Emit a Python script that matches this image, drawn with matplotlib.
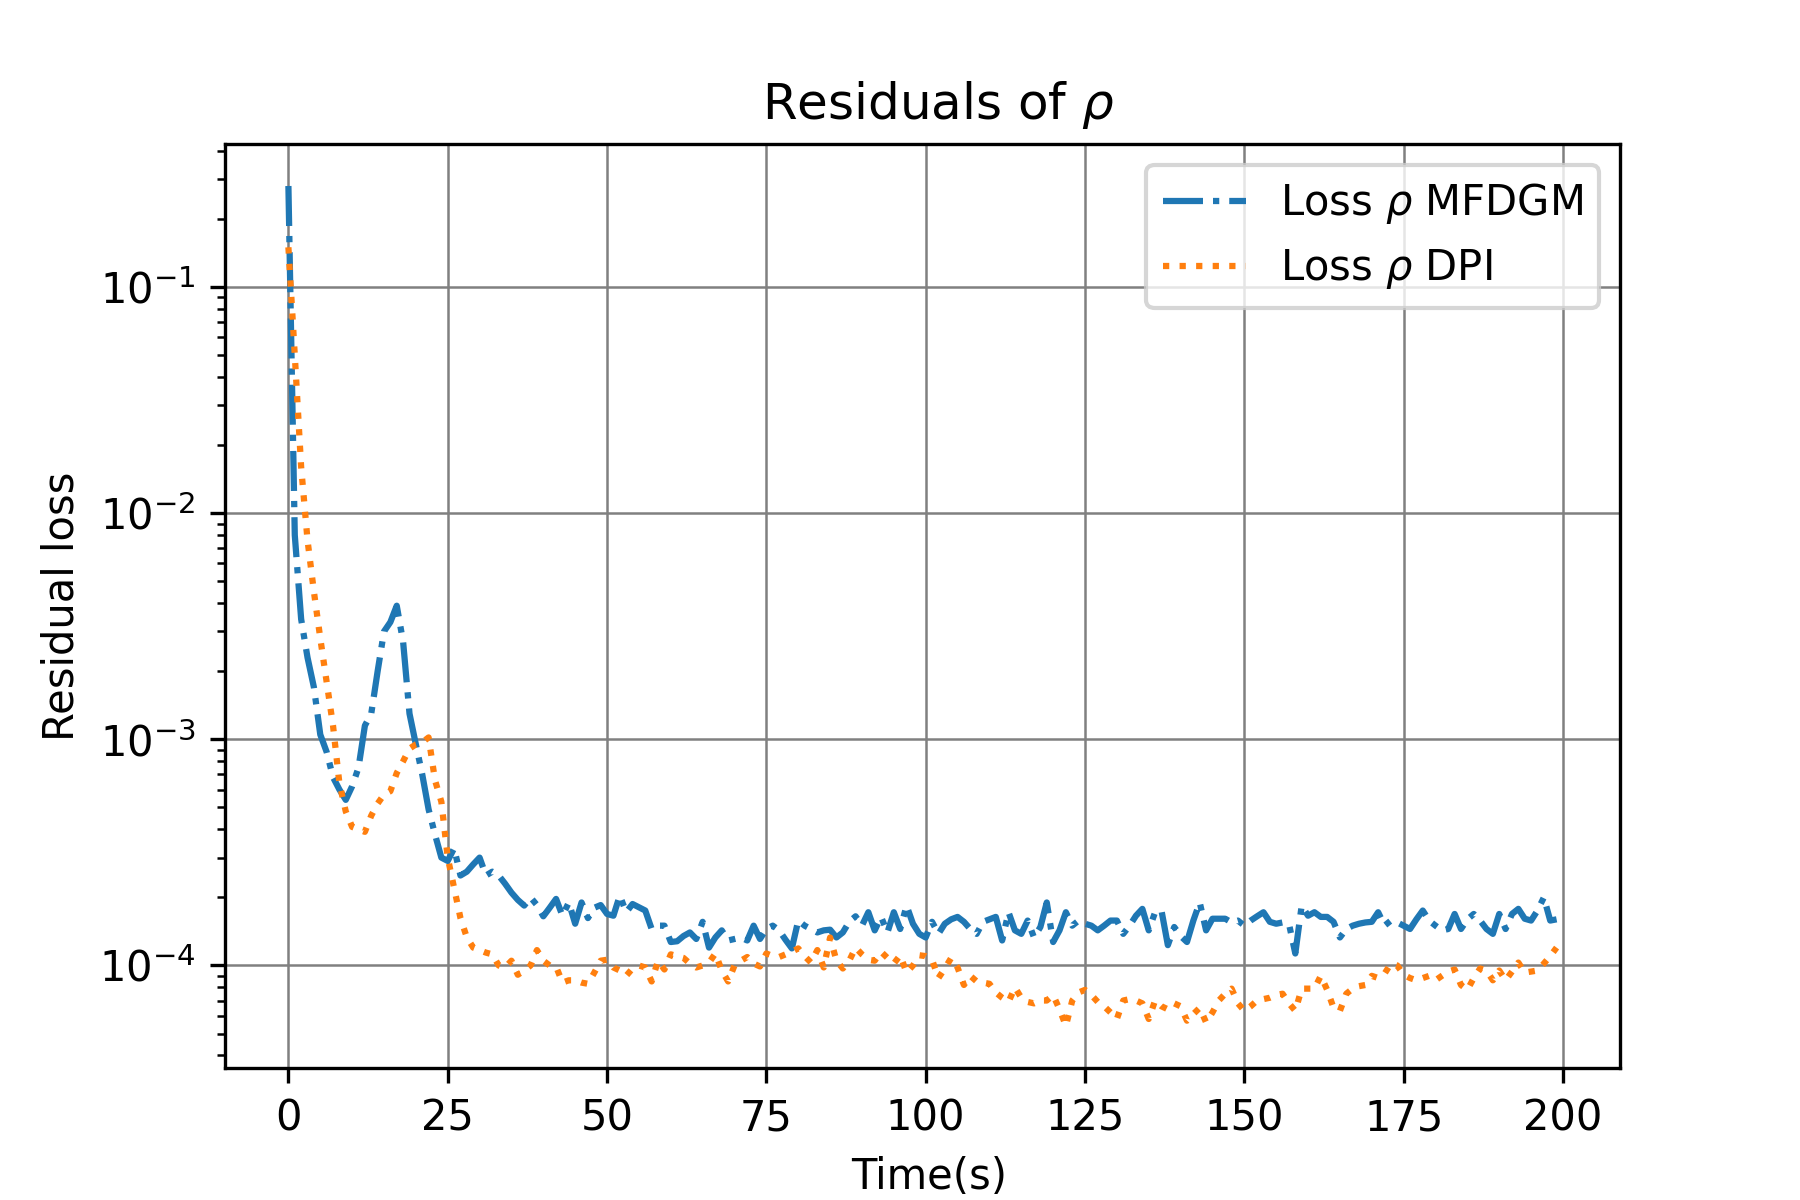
import matplotlib
matplotlib.use("Agg")
import matplotlib.pyplot as plt
import numpy as np

# time axis (s), one sample per second
time_s = np.arange(200)

# residual loss of rho, in units of 1e-4
loss_mfdgm = [
    2800, 80, 34, 23, 17, 10.5, 8.8, 6.8, 6.0, 5.4,
    6.2, 7.5, 11.5, 13, 20, 30, 33, 39, 27, 13,
    9.5, 7.0, 4.9, 3.8, 3.0, 2.9, 3.3, 2.5, 2.6, 2.8,
    3.0, 2.5, 2.6, 2.5, 2.3, 2.1, 1.95, 1.84, 2.0, 1.85,
    1.65, 1.8, 1.97, 1.66, 1.9, 1.53, 1.9, 1.62, 1.8, 1.85,
    1.69, 1.66, 2.04, 1.72, 1.87, 1.81, 1.75, 1.45, 1.5, 1.5,
    1.27, 1.28, 1.35, 1.4, 1.31, 1.56, 1.2, 1.33, 1.43, 1.29,
    1.31, 1.33, 1.29, 1.5, 1.31, 1.45, 1.5, 1.43, 1.3, 1.19,
    1.58, 1.5, 1.45, 1.4, 1.43, 1.44, 1.33, 1.4, 1.56, 1.65,
    1.5, 1.72, 1.43, 1.64, 1.40, 1.72, 1.45, 1.84, 1.53, 1.38,
    1.33, 1.56, 1.38, 1.53, 1.6, 1.64, 1.56, 1.45, 1.38, 1.56,
    1.6, 1.64, 1.29, 1.72, 1.43, 1.38, 1.58, 1.33, 1.48, 1.9,
    1.27, 1.43, 1.72, 1.5, 1.58, 1.53, 1.5, 1.43, 1.5, 1.58,
    1.58, 1.38, 1.5, 1.66, 1.78, 1.43, 1.72, 1.75, 1.23, 1.48,
    1.35, 1.27, 1.58, 1.9, 1.43, 1.61, 1.61, 1.61, 1.55, 1.58,
    1.5, 1.58, 1.65, 1.72, 1.56, 1.53, 1.55, 1.53, 1.13, 1.84,
    1.66, 1.72, 1.64, 1.64, 1.56, 1.33, 1.45, 1.5, 1.53, 1.55,
    1.56, 1.72, 1.5, 1.58, 1.55, 1.5, 1.45, 1.6, 1.75, 1.58,
    1.5, 1.43, 1.45, 1.69, 1.45, 1.6, 1.69, 1.58, 1.45, 1.38,
    1.69, 1.45, 1.69, 1.78, 1.61, 1.58, 1.75, 2.0, 1.58, 1.6,
]
loss_dpi = [
    1500, 500, 160, 76, 45, 28, 18, 11.5, 6.4, 4.8,
    4.1, 4.0, 3.9, 4.6, 5.2, 5.7, 5.9, 7.1, 8.0, 9.1,
    9.5, 9.7, 10.2, 6.6, 5.3, 3.0, 2.2, 1.62, 1.33, 1.2,
    1.17, 1.14, 1.12, 1.0, 0.98, 1.05, 0.91, 0.95, 1.0, 1.17,
    1.05, 1.0, 0.99, 0.84, 0.86, 0.86, 0.84, 0.83, 0.93, 1.05,
    1.06, 0.98, 0.95, 0.9, 0.97, 1.0, 0.98, 0.85, 1.05, 0.96,
    1.12, 1.1, 1.08, 1.02, 0.98, 1.0, 1.03, 1.13, 0.95, 0.85,
    1.0, 1.05, 1.09, 1.02, 0.99, 1.13, 1.1, 1.09, 1.12, 1.15,
    1.19, 1.1, 1.03, 1.17, 0.98, 1.33, 1.05, 0.97, 1.05, 1.2,
    1.12, 1.06, 1.05, 1.15, 1.08, 1.02, 1.11, 0.93, 1.0, 1.11,
    1.1, 1.06, 0.88, 0.97, 1.08, 0.98, 0.82, 0.9, 0.85, 0.84,
    0.83, 0.76, 0.72, 0.69, 0.8, 0.72, 0.69, 0.68, 0.7, 0.7,
    0.74, 0.64, 0.54, 0.7, 0.76, 0.78, 0.74, 0.69, 0.66, 0.62,
    0.58, 0.7, 0.71, 0.7, 0.68, 0.58, 0.7, 0.66, 0.64, 0.68,
    0.66, 0.57, 0.61, 0.65, 0.56, 0.62, 0.7, 0.75, 0.79, 0.68,
    0.63, 0.66, 0.7, 0.71, 0.72, 0.74, 0.75, 0.68, 0.63, 0.79,
    0.79, 0.79, 0.9, 0.78, 0.65, 0.63, 0.75, 0.79, 0.81, 0.82,
    0.9, 0.88, 0.92, 1.02, 1.0, 0.91, 0.88, 0.86, 0.88, 0.9,
    0.86, 0.9, 0.94, 0.96, 0.82, 0.78, 0.88, 0.97, 0.95, 0.86,
    0.95, 0.86, 0.94, 1.03, 0.93, 0.94, 0.95, 1.02, 1.1, 1.2,
]
unit = 1e-4

f = plt.figure(figsize=(6, 4), dpi=300)
ax = f.add_subplot(111)

ax.plot(time_s, np.array(loss_mfdgm) * unit, '-.', color='#1f77b4', lw=1.5,
        label=r'Loss $\rho$ MFDGM')
ax.plot(time_s, np.array(loss_dpi) * unit, ':', color='#ff7f0e', lw=1.5,
        label=r'Loss $\rho$ DPI')

ax.set_yscale('log')
ax.set_xticks([0, 25, 50, 75, 100, 125, 150, 175, 200])
ax.grid(True, which='major', color='gray', ls='-', lw=0.6)
ax.set_axisbelow(True)

ax.set_title(r'Residuals of $\rho$', x=0.511)
ax.set_xlabel('Time(s)')
ax.xaxis.label.set_x(0.505)
ax.set_ylabel('Residual loss')
ax.legend(loc='upper right')

f.savefig('out.png', dpi=300)
